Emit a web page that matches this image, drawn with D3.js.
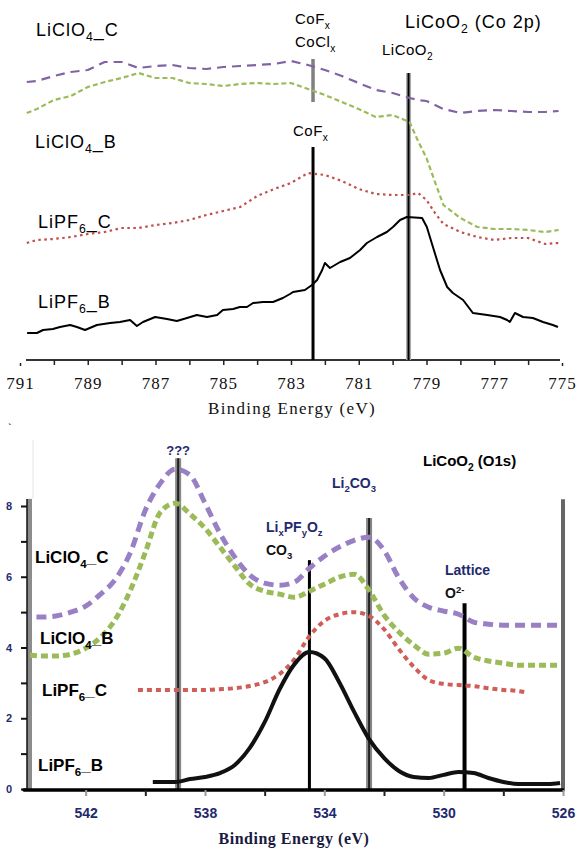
<!DOCTYPE html>
<html><head><meta charset="utf-8">
<script src="https://cdn.jsdelivr.net/npm/d3@7"></script>
<style>body{margin:0;background:#fff}</style>
</head><body><svg id="c" width="577" height="849"></svg>
<script>
// ---------- DATA: Co 2p panel ----------
const co2pEnergy = [790.8, 790.5, 790, 789.5, 789, 788.5, 788, 787.5, 787, 786.5, 786, 785.5, 785, 784.5, 784, 783.5, 783, 782.5, 782, 781.5, 781, 780.5, 780, 779.5, 779.25, 779, 778.75, 778.5, 778, 777.5, 777, 776.5, 776, 775.5, 775.1];
const co2pLiClO4C = [27.8, 27.9, 28.4, 28.8, 29.0, 29.8, 29.8, 29.2, 29.4, 29.5, 29.2, 29.1, 29.3, 29.4, 29.5, 29.6, 29.9, 29.5, 29.0, 28.4, 27.7, 27.0, 26.7, 26.2, 26.0, 25.9, 25.5, 25.1, 24.7, 24.9, 25.0, 24.9, 24.8, 24.8, 24.9];
const co2pLiClO4B = [24.7, 25.1, 26.0, 26.4, 27.3, 27.8, 28.2, 28.7, 28.2, 28.2, 27.7, 27.6, 27.4, 27.6, 27.7, 27.6, 27.7, 27.1, 26.5, 25.8, 25.1, 24.3, 24.5, 23.8, 21.9, 20.2, 17.8, 15.5, 14.2, 13.3, 13.1, 13.1, 13.0, 12.8, 13.0];
const co2pLiPF6C = [11.7, 12.0, 12.1, 12.3, 12.6, 12.8, 13.2, 13.2, 13.5, 13.7, 14.0, 14.5, 14.9, 15.3, 16.4, 17.1, 17.7, 18.7, 18.5, 17.9, 17.1, 16.6, 16.5, 16.5, 16.7, 16.0, 14.7, 13.6, 12.8, 12.3, 12.0, 12.2, 12.2, 11.6, 11.7];
const co2pBEnergy = [790.79, 790.50, 790.32, 790.03, 789.82, 789.52, 789.32, 789.08, 788.73, 788.34, 788.05, 787.75, 787.55, 787.37, 787.01, 786.66, 786.37, 786.07, 785.78, 785.48, 785.18, 785.01, 784.71, 784.51, 784.30, 784.12, 783.83, 783.53, 783.24, 783.03, 782.94, 782.59, 782.38, 782.23, 782.08, 782.00, 781.85, 781.55, 781.26, 780.96, 780.76, 780.46, 780.17, 779.99, 779.78, 779.58, 779.13, 778.99, 778.81, 778.60, 778.39, 778.22, 777.92, 777.63, 777.21, 776.83, 776.62, 776.54, 776.39, 776.15, 775.86, 775.56, 775.27, 775.12];
const co2pLiPF6B = [2.7, 2.7, 3.0, 3.1, 3.3, 3.5, 3.3, 3.0, 3.5, 3.7, 3.8, 4.0, 3.4, 3.8, 4.3, 4.1, 3.9, 4.2, 4.5, 4.3, 4.5, 5.0, 5.1, 5.3, 5.3, 5.7, 5.8, 5.8, 6.2, 6.6, 6.8, 7.0, 7.5, 8.0, 9.0, 9.7, 9.2, 9.8, 10.2, 11.0, 11.7, 12.3, 12.8, 13.3, 14.0, 14.3, 14.2, 13.3, 11.3, 9.0, 7.3, 6.7, 6.0, 4.7, 4.5, 4.3, 4.0, 3.8, 4.7, 4.3, 4.2, 3.8, 3.5, 3.3];
const co2pTicks = [791, 790, 789, 788, 787, 786, 785, 784, 783, 782, 781, 780, 779, 778, 777, 776, 775];
const co2pTickLabels = [791, 789, 787, 785, 783, 781, 779, 777, 775];
const co2pMarkerCoX = 782.35, co2pMarkerLiCoO2 = 779.53;

// ---------- DATA: O 1s panel ----------
const o1sEnergy = [543.9, 543.5, 543, 542.5, 542, 541.5, 541, 540.5, 540, 539.5, 539, 538.5, 538, 537.5, 537, 536.5, 536, 535.5, 535, 534.5, 534, 533.5, 533, 532.5, 532, 531.5, 531, 530.5, 530, 529.5, 529, 528.5, 528, 527.5, 527, 526.5, 526.2];
const o1sLiClO4C = [4.86, 4.86, 4.89, 5.00, 5.17, 5.51, 5.93, 6.69, 7.88, 8.64, 9.04, 8.87, 8.08, 7.23, 6.55, 6.05, 5.82, 5.76, 5.85, 6.24, 6.58, 6.84, 7.03, 7.12, 6.75, 5.96, 5.40, 5.14, 5.03, 4.94, 4.72, 4.66, 4.63, 4.63, 4.63, 4.63, 4.63];
const o1sLiClO4B = [3.79, 3.76, 3.76, 3.81, 3.98, 4.29, 4.80, 5.62, 6.69, 7.82, 8.08, 7.77, 7.37, 6.84, 6.30, 5.79, 5.59, 5.51, 5.42, 5.59, 5.79, 5.99, 6.07, 5.62, 4.92, 4.44, 4.07, 3.81, 3.84, 3.98, 3.73, 3.62, 3.56, 3.50, 3.50, 3.50, 3.50];
const o1sCEnergy = [540.3, 540, 539.5, 539, 538.5, 538, 537.5, 537, 536.5, 536, 535.5, 535, 534.5, 534, 533.5, 533, 532.5, 532, 531.5, 531, 530.5, 530, 529.5, 529, 528.5, 528, 527.5, 527.3];
const o1sLiPF6C = [2.80, 2.80, 2.80, 2.80, 2.80, 2.80, 2.82, 2.85, 2.91, 3.02, 3.25, 3.67, 4.32, 4.75, 4.94, 5.00, 4.89, 4.52, 3.95, 3.45, 3.08, 2.97, 2.94, 2.91, 2.85, 2.80, 2.77, 2.74];
const o1sBEnergy = [539.75, 539, 538.5, 538, 537.5, 537, 536.5, 536, 535.5, 535, 534.5, 534, 533.5, 533, 532.5, 532, 531.5, 531, 530.5, 530, 529.5, 529, 528.5, 528, 527.5, 527, 526.5, 526.1];
const o1sLiPF6B = [0.20, 0.20, 0.28, 0.34, 0.45, 0.68, 1.16, 1.89, 2.82, 3.53, 3.87, 3.70, 3.02, 2.18, 1.41, 0.88, 0.51, 0.34, 0.31, 0.40, 0.48, 0.45, 0.31, 0.20, 0.14, 0.14, 0.14, 0.17];
const o1sTicks = [542, 540, 538, 536, 534, 532, 530, 528, 526];
const o1sTickLabels = [542, 538, 534, 530, 526];
const o1sYTicks = [0, 1, 2, 3, 4, 5, 6, 7, 8];
const o1sYTickLabels = [0, 2, 4, 6, 8];
const o1sMarkers = [538.9, 534.5, 532.5, 529.3];
const o1sMarkerTops = [9.35, 6.47, 7.66, 5.25];

// ---------- DRAW ----------
const svg = d3.select("#c");
const sans = "'Liberation Sans', Arial, sans-serif";
const serif = "'Liberation Serif', 'Times New Roman', serif";

function rich(g, x, y, parts, opts) {
  const t = g.append("text").attr("x", x).attr("y", y)
    .attr("font-family", opts.family || sans).attr("font-size", opts.size)
    .attr("font-weight", opts.weight || "normal").attr("fill", opts.fill || "#000")
    .attr("letter-spacing", opts.ls || 0);
  if (opts.anchor) t.attr("text-anchor", opts.anchor);
  let shift = 0;
  parts.forEach(p => {
    const [s, kind] = Array.isArray(p) ? p : [p, null];
    let target = 0;
    if (kind === "sub") target = opts.size * 0.3;
    if (kind === "sup") target = -opts.size * 0.35;
    const ts = t.append("tspan").text(s).attr("dy", target - shift);
    if (kind) ts.attr("font-size", opts.size * 0.68);
    shift = target;
  });
  return t;
}

// ===== Top panel =====
const xT = d3.scaleLinear().domain([791, 775]).range([20, 562]);
const yT = d3.scaleLinear().domain([0, 32]).range([360, 40]);
const gT = svg.append("g");

// axis
gT.append("line").attr("x1", 26).attr("x2", 560).attr("y1", yT(0)).attr("y2", yT(0))
  .attr("stroke", "#333").attr("stroke-width", 2);
const axT = d3.axisBottom(xT).tickValues(co2pTicks).tickSize(5)
  .tickFormat(d => co2pTickLabels.includes(d) ? d : "");
const axTG = gT.append("g").attr("transform", `translate(0,${yT(0)})`).call(axT);
axTG.select(".domain").remove();
axTG.selectAll(".tick line").attr("stroke", "#222").attr("stroke-width", 1.5)
  .filter(d => d === 791 || d === 775).attr("y2", 3).attr("y1", 6);
axTG.selectAll(".tick text").attr("font-family", serif).attr("font-size", 17)
  .attr("letter-spacing", 1).attr("fill", "#111").attr("y", 17);
gT.append("text").attr("x", 292).attr("y", 414).attr("text-anchor", "middle")
  .attr("font-family", serif).attr("font-size", 17).attr("letter-spacing", 1.3)
  .attr("fill", "#111").text("Binding Energy (eV)");

// marker lines
gT.append("line").attr("x1", xT(co2pMarkerCoX)).attr("x2", xT(co2pMarkerCoX))
  .attr("y1", yT(30.1)).attr("y2", yT(25.8)).attr("stroke", "#808080").attr("stroke-width", 3.5);
gT.append("line").attr("x1", xT(co2pMarkerCoX)).attr("x2", xT(co2pMarkerCoX))
  .attr("y1", yT(21.3)).attr("y2", yT(0)).attr("stroke", "#000").attr("stroke-width", 3);
gT.append("line").attr("x1", xT(co2pMarkerLiCoO2)).attr("x2", xT(co2pMarkerLiCoO2))
  .attr("y1", yT(28.7)).attr("y2", yT(0)).attr("stroke", "#aaa").attr("stroke-width", 5);
gT.append("line").attr("x1", xT(co2pMarkerLiCoO2)).attr("x2", xT(co2pMarkerLiCoO2))
  .attr("y1", yT(28.7)).attr("y2", yT(0)).attr("stroke", "#000").attr("stroke-width", 2);

const lineT = d3.line().x(d => xT(d[0])).y(d => yT(d[1]));
const topSeries = [
  { e: co2pEnergy, v: co2pLiClO4C, c: "#8064A2", dash: "9,6", w: 2.2 },
  { e: co2pEnergy, v: co2pLiClO4B, c: "#9BBB59", dash: "5,3", w: 2.2 },
  { e: co2pEnergy, v: co2pLiPF6C, c: "#C0504D", dash: "2.5,3.5", w: 2.2 },
  { e: co2pBEnergy, v: co2pLiPF6B, c: "#000", dash: null, w: 2 }
];
topSeries.forEach(s => {
  gT.append("path").datum(s.e.map((e, i) => [e, s.v[i]])).attr("d", lineT)
    .attr("fill", "none").attr("stroke", s.c).attr("stroke-width", s.w)
    .attr("stroke-dasharray", s.dash).attr("stroke-linejoin", "round");
});

// labels
const lt = { size: 18, ls: 1 };
rich(gT, 36, 36, ["LiClO", ["4", "sub"], "_C"], lt);
rich(gT, 35, 148, ["LiClO", ["4", "sub"], "_B"], lt);
rich(gT, 38, 228, ["LiPF", ["6", "sub"], "_C"], lt);
rich(gT, 38, 308, ["LiPF", ["6", "sub"], "_B"], lt);
rich(gT, 405, 28, ["LiCoO", ["2", "sub"], " (Co 2p)"], { size: 18, ls: 1 });
rich(gT, 295, 24, ["CoF", ["x", "sub"]], { size: 15, ls: 0.5 });
rich(gT, 295, 47, ["CoCl", ["x", "sub"]], { size: 15, ls: 0.5 });
rich(gT, 382, 55, ["LiCoO", ["2", "sub"]], { size: 15, ls: 0.5 });
rich(gT, 293, 136, ["CoF", ["x", "sub"]], { size: 15, ls: 0.5 });

// ===== Bottom panel =====
const xB = d3.scaleLinear().domain([544, 526]).range([26, 563]);
const yB = d3.scaleLinear().domain([0, 8]).range([789, 506]);
const gB = svg.append("g");
const navy = "#1f2a6e";

// faint grid line
gB.append("line").attr("x1", 33).attr("x2", 33).attr("y1", 440).attr("y2", yB(8.2))
  .attr("stroke", "#e6e6e6").attr("stroke-width", 1);
gB.append("text").attr("x", 8).attr("y", 432).attr("font-family", sans).attr("font-size", 10)
  .attr("font-weight", "bold").attr("fill", navy).text("ˋ");

// left axis
gB.append("rect").attr("x", 27).attr("y", yB(8.2)).attr("width", 5).attr("height", yB(0) - yB(8.2))
  .attr("fill", "#8c8c8c");
gB.append("line").attr("x1", 27).attr("x2", 27).attr("y1", yB(8.2)).attr("y2", yB(0))
  .attr("stroke", "#111").attr("stroke-width", 1.5);
const axL = d3.axisLeft(yB).tickValues(o1sYTicks).tickSize(6)
  .tickFormat(d => o1sYTickLabels.includes(d) ? d : "");
const axLG = gB.append("g").attr("transform", "translate(27,0)").call(axL);
axLG.select(".domain").remove();
axLG.selectAll(".tick line").attr("stroke", "#111").attr("stroke-width", 2);
axLG.selectAll(".tick text").attr("font-family", sans).attr("font-size", 11).attr("font-weight", "bold")
  .attr("fill", navy).attr("x", -15);

// right border line
gB.append("line").attr("x1", xB(526)).attr("x2", xB(526)).attr("y1", yB(8.19)).attr("y2", yB(0))
  .attr("stroke", "#666").attr("stroke-width", 4);

// marker lines
o1sMarkers.forEach((m, i) => {
  const grey = (i === 0 || i === 2);
  if (grey) gB.append("line").attr("x1", xB(m)).attr("x2", xB(m)).attr("y1", yB(o1sMarkerTops[i])).attr("y2", yB(0))
    .attr("stroke", "#888").attr("stroke-width", 6);
  gB.append("line").attr("x1", xB(m)).attr("x2", xB(m)).attr("y1", yB(o1sMarkerTops[i])).attr("y2", yB(0))
    .attr("stroke", grey ? "#222" : "#000").attr("stroke-width", grey ? 2 : (i === 3 ? 4 : 3));
});

// series
const lineB = d3.line().x(d => xB(d[0])).y(d => yB(d[1])).curve(d3.curveMonotoneX);
const botSeries = [
  { e: o1sEnergy, v: o1sLiClO4C, c: "#9980c4", dash: "10,6", w: 5 },
  { e: o1sEnergy, v: o1sLiClO4B, c: "#9BBB59", dash: "7,4", w: 5 },
  { e: o1sCEnergy, v: o1sLiPF6C, c: "#cf5d58", dash: "5,4", w: 4 },
  { e: o1sBEnergy, v: o1sLiPF6B, c: "#111", dash: null, w: 4 }
];
botSeries.forEach(s => {
  const pts = s.e.map((e, i) => [e, s.v[i]]).reverse();
  gB.append("path").datum(pts).attr("d", lineB)
    .attr("fill", "none").attr("stroke", s.c).attr("stroke-width", s.w)
    .attr("stroke-dasharray", s.dash).attr("stroke-linejoin", "round");
});

// bottom axis
gB.append("line").attr("x1", 24).attr("x2", 563).attr("y1", 790).attr("y2", 790)
  .attr("stroke", "#000").attr("stroke-width", 3.5).attr("stroke-linecap", "round");
const axB = d3.axisBottom(xB).tickValues(o1sTicks).tickSize(6)
  .tickFormat(d => o1sTickLabels.includes(d) ? d : "");
const axBG = gB.append("g").attr("transform", "translate(0,790)").call(axB);
axBG.select(".domain").remove();
axBG.selectAll(".tick line").attr("stroke-width", 2)
  .attr("stroke", d => o1sTickLabels.includes(d) ? "#999" : "#222");
axBG.selectAll(".tick text").attr("font-family", sans).attr("font-size", 14).attr("font-weight", "bold")
  .attr("fill", navy).attr("y", 18);
gB.append("text").attr("x", 294).attr("y", 844).attr("text-anchor", "middle")
  .attr("font-family", serif).attr("font-size", 16).attr("font-weight", "bold")
  .attr("fill", "#1a1a40").attr("letter-spacing", 0.5).text("Binding Energy (eV)");

// labels
const lb = { size: 17, weight: "bold", ls: 0 };
rich(gB, 35, 563, ["LiClO", ["4", "sub"], "_C"], lb);
rich(gB, 40, 644, ["LiClO", ["4", "sub"], "_B"], lb);
rich(gB, 42, 696, ["LiPF", ["6", "sub"], "_C"], lb);
rich(gB, 38, 771, ["LiPF", ["6", "sub"], "_B"], lb);
rich(gB, xB(o1sMarkers[0]), 455, ["???"], { size: 13, weight: "bold", fill: navy, anchor: "middle" });
rich(gB, 423, 466, ["LiCoO", ["2", "sub"], " (O1s)"], { size: 15, weight: "bold" });
rich(gB, 332, 488, ["Li", ["2", "sub"], "CO", ["3", "sub"]], { size: 14, weight: "bold", fill: navy });
rich(gB, 266, 532, ["Li", ["x", "sub"], "PF", ["y", "sub"], "O", ["z", "sub"]], { size: 14, weight: "bold", fill: navy });
rich(gB, 266, 555, ["CO", ["3", "sub"]], { size: 14, weight: "bold", fill: "#111" });
rich(gB, 445, 575, ["Lattice"], { size: 14, weight: "bold", fill: navy });
rich(gB, 445, 598, ["O", ["2-", "sup"]], { size: 14, weight: "bold", fill: "#111" });
</script></body></html>
